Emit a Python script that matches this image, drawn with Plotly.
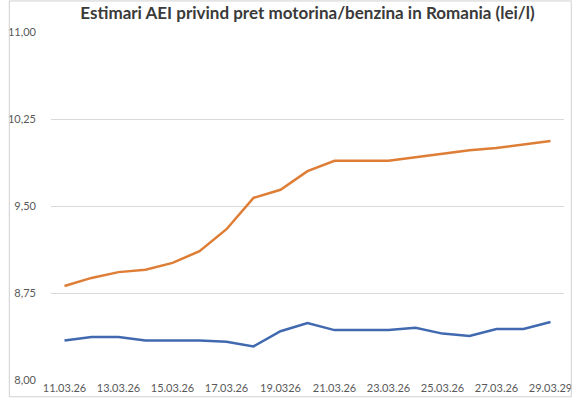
import plotly.graph_objects as go

dates = ["11.03.26", "12.03.26", "13.03.26", "14.03.26", "15.03.26", "16.03.26",
         "17.03.26", "18.03.26", "19.03.26", "20.03.26", "21.03.26", "22.03.26",
         "23.03.26", "24.03.26", "25.03.26", "26.03.26", "27.03.26", "28.03.26",
         "29.03.26"]
tick_labels = ["11.03.26", "13.03.26", "15.03.26", "17.03.26", "19.0326",
               "21.03.26", "23.03.26", "25.03.26", "27.03.26", "29.03.29"]
benzina = [8.81, 8.88, 8.93, 8.95, 9.01, 9.11, 9.30, 9.57, 9.64, 9.80,
           9.89, 9.89, 9.89, 9.92, 9.95, 9.98, 10.00, 10.03, 10.06]
motorina = [8.34, 8.37, 8.37, 8.34, 8.34, 8.34, 8.33, 8.29, 8.42, 8.49,
            8.43, 8.43, 8.43, 8.45, 8.40, 8.38, 8.44, 8.44, 8.50]
y_ticks = [8.00, 8.75, 9.50, 10.25, 11.00]
y_tick_text = ["8,00", "8,75", "9,50", "10,25", "11,00"]

idx = list(range(len(dates)))

fig = go.Figure()
fig.add_trace(go.Scatter(x=idx, y=motorina, mode="lines", name="Motorina",
                         line=dict(color="#4169B0", width=2.5)))
fig.add_trace(go.Scatter(x=idx, y=benzina, mode="lines", name="Benzina",
                         line=dict(color="#DE7E36", width=2.5)))

fig.update_layout(
    width=580, height=402,
    margin=dict(l=43, r=8, t=32, b=17),
    paper_bgcolor="white", plot_bgcolor="white",
    showlegend=False,
    font=dict(family="Lato", color="#595959", size=11),
    title=dict(text="<b>Estimari AEI privind pret motorina/benzina in Romania (lei/l)</b>",
               x=0.5, xref="paper", xanchor="center", y=0.967, yref="container",
               yanchor="middle", font=dict(family="Lato", size=17, color="#3A3A3A")),
    xaxis=dict(range=[-0.5, len(dates) - 0.5], tickvals=idx[::2], ticktext=tick_labels,
               showgrid=False, zeroline=False, showline=False, ticks="",
               ticklabelstandoff=0, tickfont=dict(size=11, color="#595959")),
    yaxis=dict(range=[8.0, 11.0], tickvals=y_ticks, ticktext=y_tick_text,
               showgrid=True, gridcolor="#D9D9D9", gridwidth=1, zeroline=False,
               showline=False, ticks="", ticklabelstandoff=14,
               tickfont=dict(size=11, color="#595959")),
    shapes=[dict(type="rect", xref="paper", yref="paper", x0=-43/529, x1=1 + 7.5/529,
                 y0=-17/353, y1=1 + 31.5/353, line=dict(color="#D0D0D0", width=1))],
)

fig.write_html("out.html")
